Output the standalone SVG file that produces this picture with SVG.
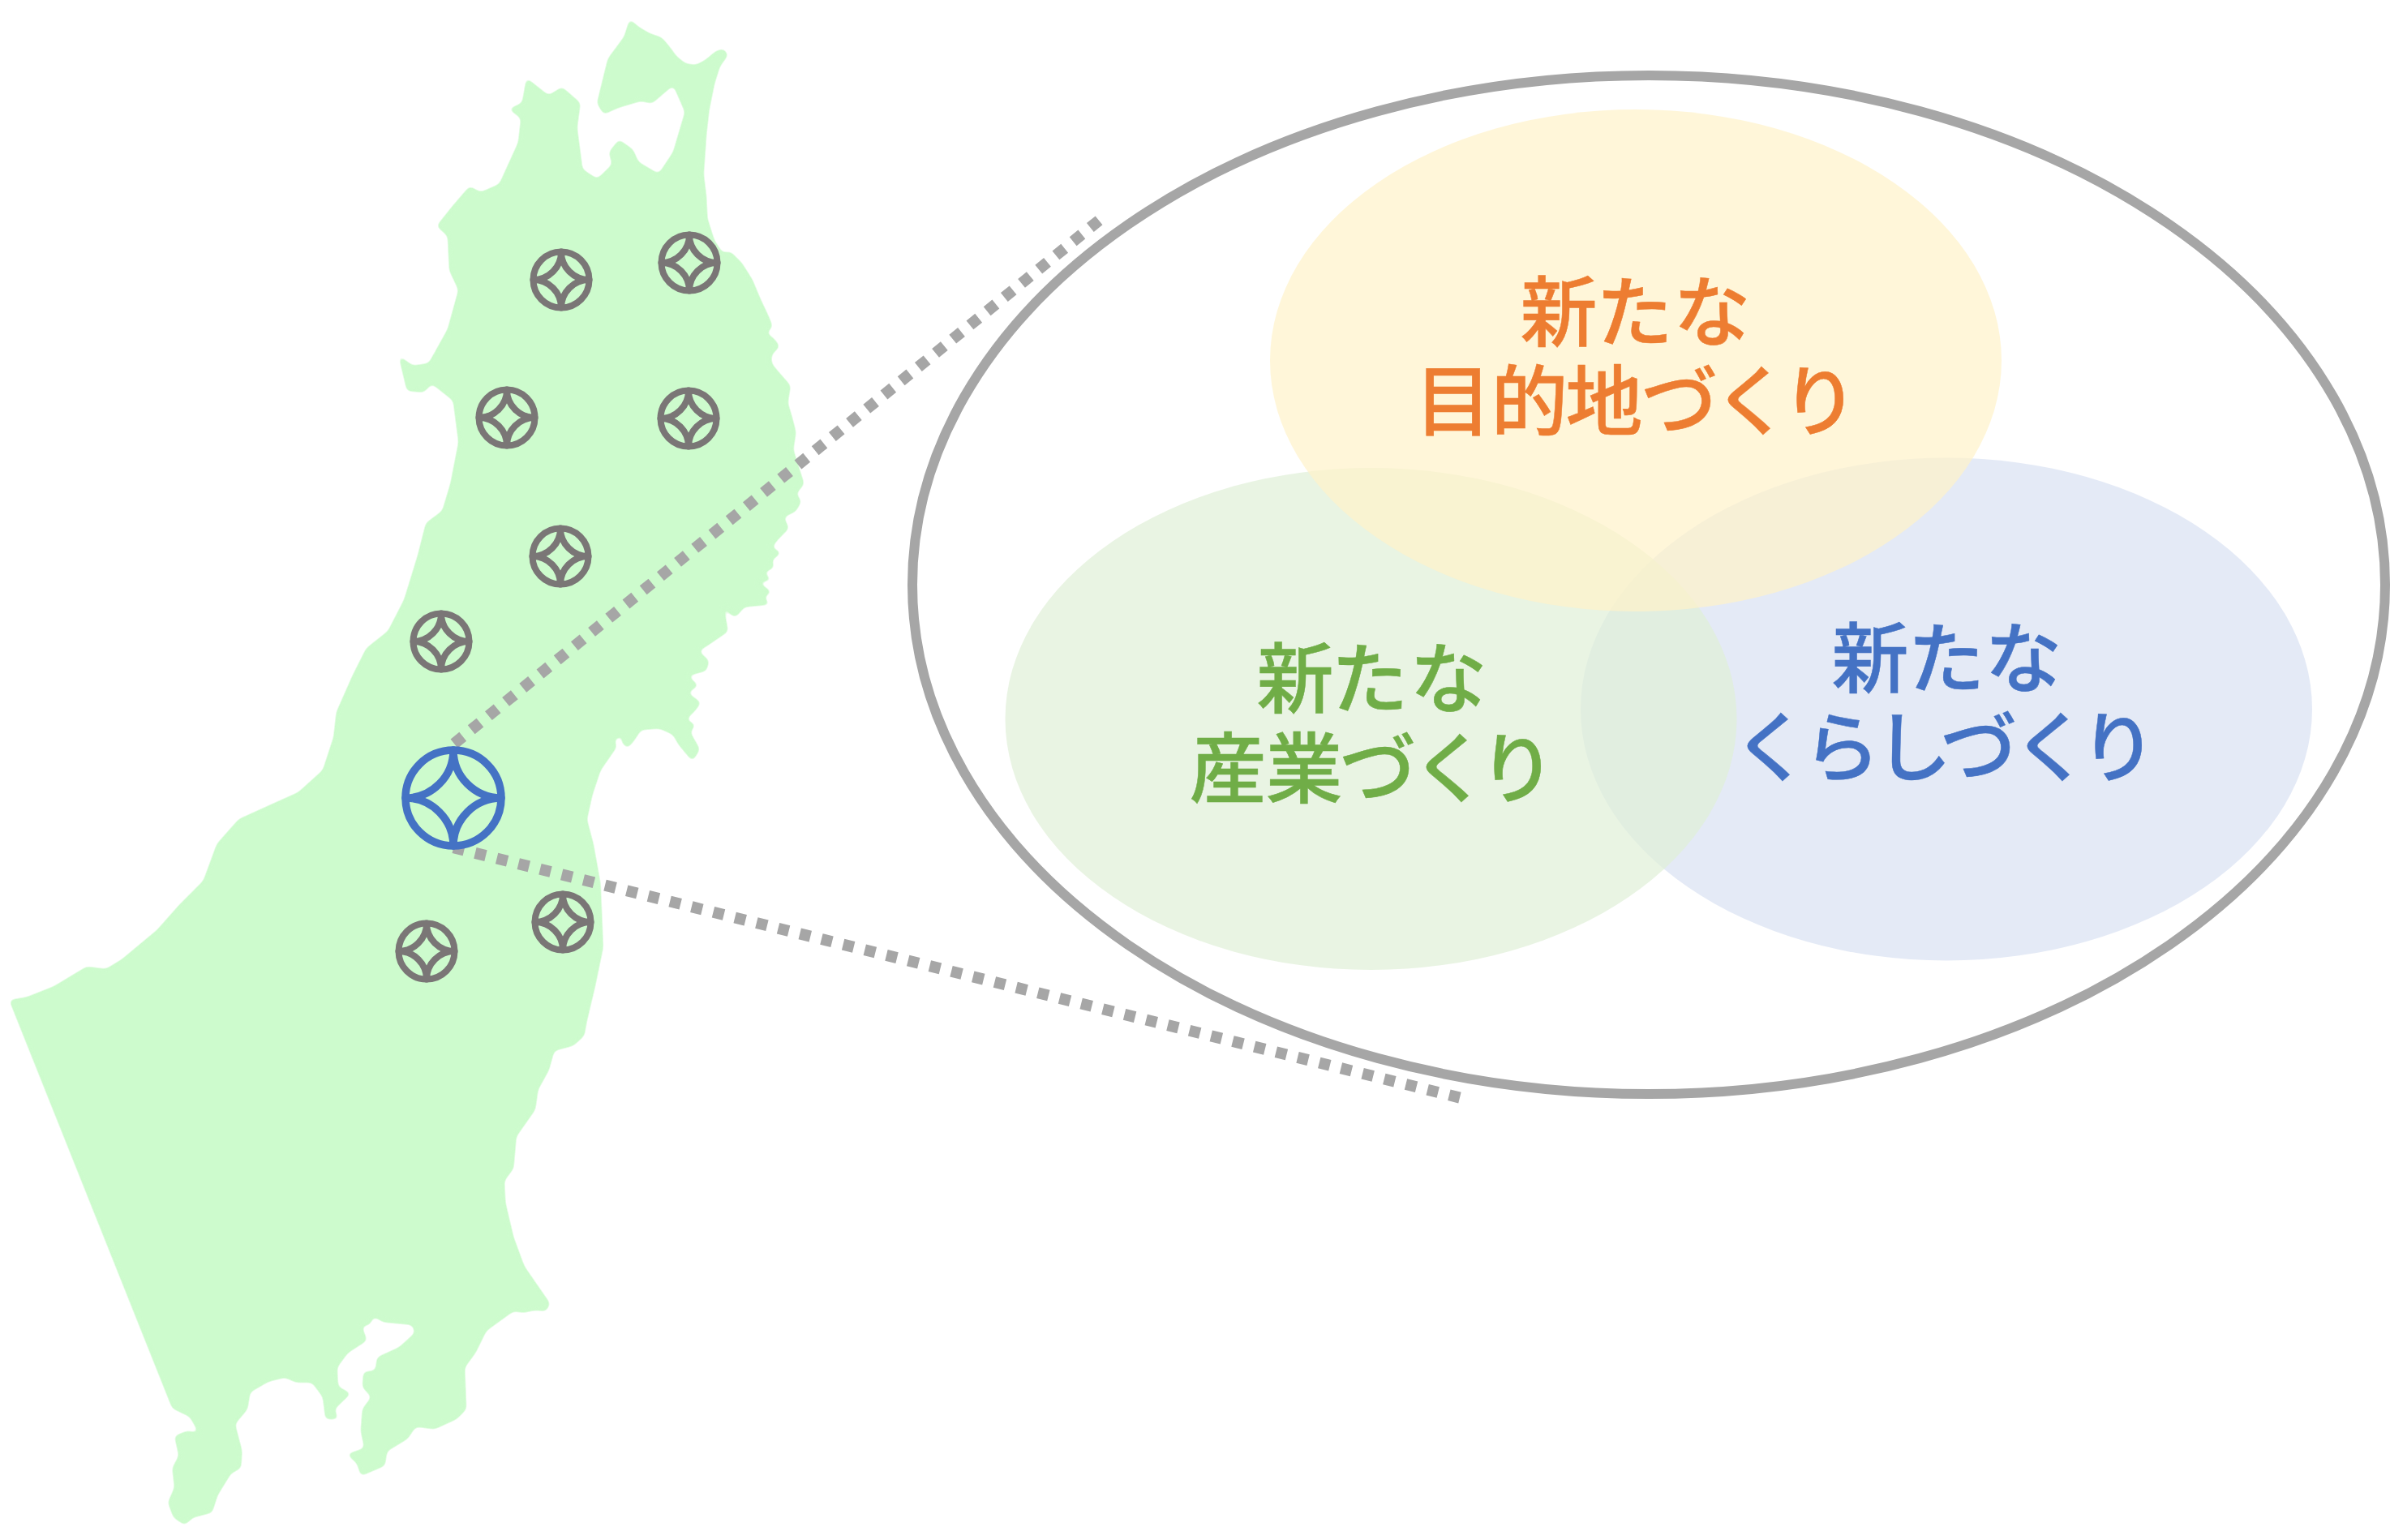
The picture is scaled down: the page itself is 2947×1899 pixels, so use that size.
<svg xmlns="http://www.w3.org/2000/svg" xmlns:xlink="http://www.w3.org/1999/xlink" width="2947" height="1899" viewBox="0 0 2947 1899">
<style>
.lbl{font-family:"Noto Sans CJK JP","Noto Sans CJK SC",sans-serif;font-size:95px;font-weight:500;text-anchor:middle;stroke-width:0.5}
.mark{fill:none;stroke-linejoin:round}
.grey{stroke:#7a7676;stroke-width:8}
.blue{stroke:#4472c4;stroke-width:9.5}
.dots{fill:none;stroke:#a6a6a6;stroke-width:14}
</style>
<defs>
<filter id="soft" x="-2%" y="-2%" width="104%" height="104%" color-interpolation-filters="sRGB"><feGaussianBlur stdDeviation="3"/><feComponentTransfer><feFuncA type="linear" slope="5" intercept="-2"/></feComponentTransfer></filter>
<g id="mark-s" class="mark grey"><circle r="34.5"/><path d="M0-34.5A34.5 34.5 0 0 1-34.5 0A34.5 34.5 0 0 1 0 34.5A34.5 34.5 0 0 1 34.5 0A34.5 34.5 0 0 1 0-34.5Z"/></g>
<g id="mark-l" class="mark blue"><circle r="59"/><path d="M0-59A59 59 0 0 1-59 0A59 59 0 0 1 0 59A59 59 0 0 1 59 0A59 59 0 0 1 0-59Z"/></g>
</defs>
<rect width="2947" height="1899" fill="#fff"/>
<g id="map" filter="url(#soft)">
<polygon transform="scale(0.66964 0.60587)" fill="#cdfbcd" stroke="#cdfbcd" stroke-width="2" stroke-linejoin="round" points="1160,40 1175,55 1195,68 1218,77 1232,95 1245,115 1262,130 1282,133 1300,122 1318,105 1332,100 1340,112 1325,135 1315,170 1305,225 1300,275 1295,355 1300,400 1302,445 1315,490 1330,515 1345,513 1365,535 1385,570 1400,610 1415,645 1422,665 1410,678 1425,690 1435,705 1420,722 1420,740 1435,760 1455,785 1450,820 1458,850 1465,880 1460,915 1470,950 1480,985 1465,1005 1475,1020 1465,1040 1442,1052 1452,1075 1430,1100 1420,1115 1438,1125 1420,1140 1425,1155 1405,1165 1420,1180 1395,1185 1420,1205 1405,1215 1417,1230 1370,1235 1355,1255 1345,1250 1330,1225 1340,1285 1300,1315 1285,1325 1305,1345 1300,1365 1265,1375 1285,1395 1265,1410 1290,1430 1280,1445 1262,1465 1280,1475 1270,1490 1288,1525 1275,1548 1250,1515 1240,1495 1215,1482 1180,1485 1165,1510 1155,1522 1145,1510 1148,1495 1130,1505 1135,1520 1105,1568 1090,1618 1080,1668 1092,1718 1105,1798 1110,1928 1095,2008 1080,2078 1075,2108 1055,2128 1020,2138 1010,2178 990,2218 985,2258 950,2313 945,2378 928,2403 930,2448 945,2518 965,2578 990,2618 1012,2653 1005,2668 985,2666 965,2671 945,2668 895,2708 875,2753 855,2783 858,2868 840,2888 800,2908 765,2903 750,2928 712,2953 708,2983 665,3003 658,2978 640,2960 672,2948 665,2913 668,2868 685,2843 668,2823 670,2793 692,2790 695,2763 735,2743 765,2713 760,2696 705,2690 688,2678 680,2696 665,2698 675,2728 640,2753 620,2783 622,2823 645,2836 615,2868 622,2888 600,2888 595,2843 575,2813 545,2813 525,2803 495,2811 460,2833 455,2868 432,2898 445,2953 443,2988 425,2998 400,3043 390,3078 355,3088 340,3103 320,3088 310,3058 322,3028 318,2988 330,2963 322,2923 345,2913 368,2918 350,2883 318,2866 18,2036 50,2030 100,2008 160,1968 195,1973 225,1953 290,1893 330,1843 375,1793 400,1718 440,1668 500,1638 550,1613 595,1568 615,1500 620,1450 650,1375 675,1320 715,1285 745,1220 770,1130 785,1065 815,1040 830,985 845,900 835,815 795,780 780,798 750,795 735,725 760,745 790,740 825,670 845,590 828,550 825,480 805,460 830,425 865,380 885,392 920,375 955,290 960,240 938,222 962,210 970,160 1010,195 1035,178 1068,210 1062,260 1072,345 1100,365 1128,335 1122,310 1140,285 1165,305 1175,330 1213,355 1240,310 1262,228 1240,172 1200,210 1180,205 1140,218 1112,232 1100,210 1120,120 1150,75"/>
</g>
<g id="connectors">
<path class="dots" stroke-dasharray="13.8 13.5" d="M560 917L1361 267"/>
<path class="dots" stroke-dasharray="13.5 14" d="M559.2 1045.2L1800 1353.6"/>
</g>
<g id="site-1"><use xlink:href="#mark-s" href="#mark-s" x="692" y="345"/></g>
<g id="site-2"><use xlink:href="#mark-s" href="#mark-s" x="850" y="324"/></g>
<g id="site-3"><use xlink:href="#mark-s" href="#mark-s" x="625" y="515"/></g>
<g id="site-4"><use xlink:href="#mark-s" href="#mark-s" x="849" y="516"/></g>
<g id="site-5"><use xlink:href="#mark-s" href="#mark-s" x="691" y="686"/></g>
<g id="site-6"><use xlink:href="#mark-s" href="#mark-s" x="544" y="791"/></g>
<g id="site-7"><use xlink:href="#mark-s" href="#mark-s" x="694" y="1137"/></g>
<g id="site-8"><use xlink:href="#mark-s" href="#mark-s" x="526" y="1173"/></g>
<g id="site-main"><use xlink:href="#mark-l" href="#mark-l" x="559" y="984"/></g>
<g id="outline"><ellipse cx="2033" cy="721" rx="908" ry="628" fill="none" stroke="#a6a6a6" stroke-width="12"/></g>
<g id="living"><ellipse cx="2400" cy="874.5" rx="451" ry="310" fill="#d9e1f2" fill-opacity="0.7"/></g>
<g id="industry"><ellipse cx="1690.5" cy="886.5" rx="451" ry="309.5" fill="#e0f0d7" fill-opacity="0.7"/></g>
<g id="destination"><ellipse cx="2017" cy="444.5" rx="451" ry="309.5" fill="#fff2c9" fill-opacity="0.7"/></g>
<g id="labels">
<text class="lbl" fill="#ed7d31" stroke="#ed7d31" x="1922 2015.5 2111" y="420">新たな</text>
<text class="lbl" fill="#ed7d31" stroke="#ed7d31" x="1792 1886 1978 2071 2160 2244" y="530">目的地づくり</text>
<text class="lbl" fill="#70ad47" stroke="#70ad47" x="1597 1689 1786" y="872">新たな</text>
<text class="lbl" fill="#70ad47" stroke="#70ad47" x="1514 1608 1699 1788 1871" y="983">産業づくり</text>
<text class="lbl" fill="#4472c4" stroke="#4472c4" x="2306 2400 2495" y="847">新たな</text>
<text class="lbl" fill="#4472c4" stroke="#4472c4" x="2184 2271 2359 2440 2529 2612" y="957">くらしづくり</text>
</g>
</svg>
